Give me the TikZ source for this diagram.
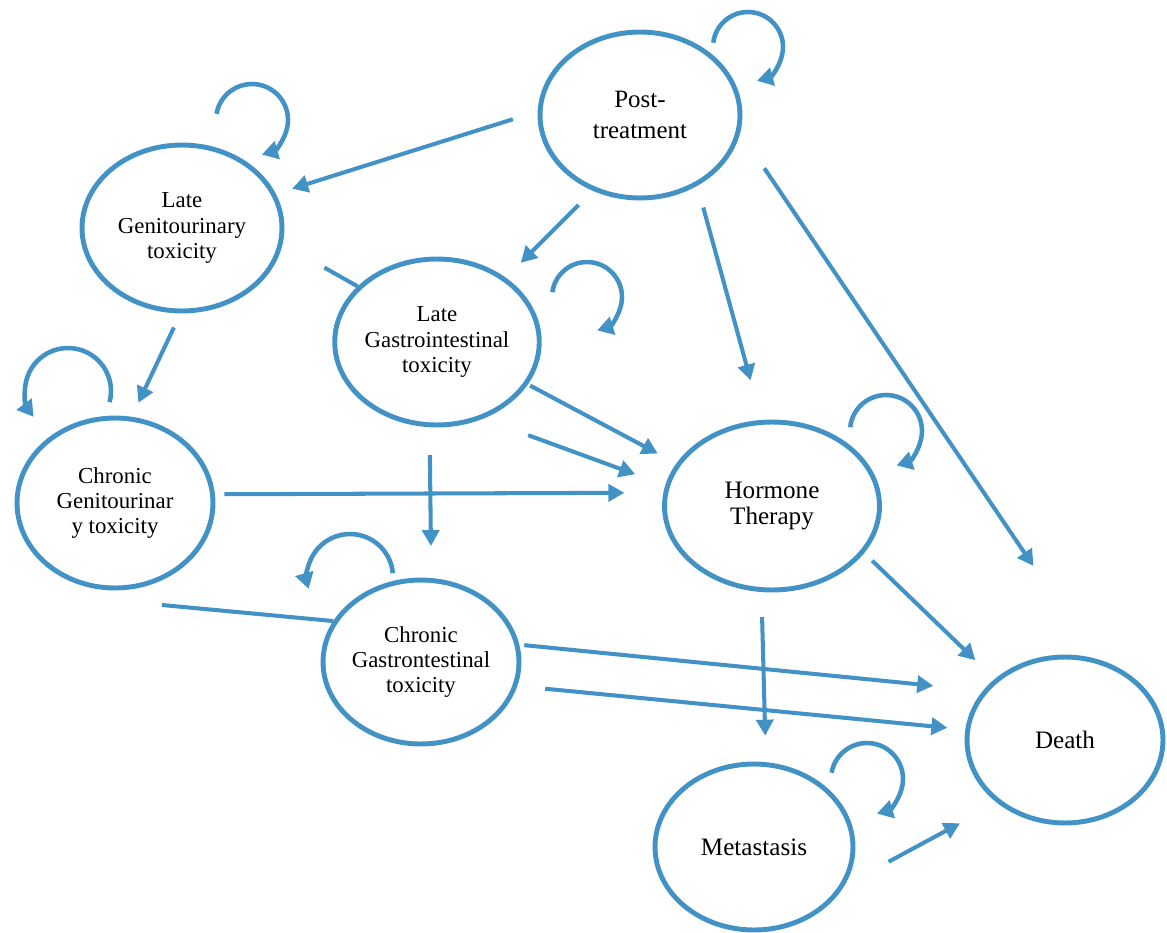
\documentclass[tikz,border=0pt]{standalone}
\usepackage{fontspec}
\setmainfont{Liberation Serif}
\usetikzlibrary{shapes.geometric,arrows.meta,calc}
\definecolor{sblue}{RGB}{67,146,198}
\begin{document}
\begin{tikzpicture}[x=0.02cm,y=-0.02cm,
  state/.style={ellipse, draw=sblue, line width=2.8pt, fill=white, inner sep=0pt,
    align=center, text=black, font=\fontsize{13}{14.4}\selectfont},
  big/.style={font=\fontsize{14.3}{14.6}\selectfont},
  arr/.style={draw=sblue, line width=2.3pt, -{Triangle[length=0.32cm,width=0.34cm]}},
  plain/.style={draw=sblue, line width=2.3pt},
  selfloop/.style={draw=sblue, line width=2.6pt, -{Triangle[length=0.32cm,width=0.36cm]}}]
\useasboundingbox (0,0) rectangle (1167,933);

% states
\node[state, font=\fontsize{14.2}{18}\selectfont, minimum width=4cm, minimum height=3.32cm] (post) at (640,115) {Post-\\treatment};
\node[state, minimum width=4cm, minimum height=3.32cm] (lgu) at (182,228) {Late\\Genitourinary\\toxicity};
\node[state, minimum width=4cm, minimum height=3.32cm] (lgi) at (437,342) {Late\\Gastrointestinal\\toxicity};
\node[state, minimum width=3.92cm, minimum height=3.4cm] (cgu) at (115,503) {Chronic\\Genitourinar\\y toxicity};
\node[state, big, minimum width=4.3cm, minimum height=3.36cm] (ht) at (772,506) {Hormone\\Therapy};
\node[state, minimum width=3.92cm, minimum height=3.28cm] (cgi) at (421,662) {Chronic\\Gastrontestinal\\toxicity};
\node[state, big, minimum width=3.92cm, minimum height=3.32cm] (death) at (1065,740) {Death};
\node[state, big, minimum width=3.96cm, minimum height=3.32cm] (meta) at (754,847) {Metastasis};

\coordinate (cguout) at ($(cgu.center)+(47,102)$);

% transitions
\draw[arr, shorten <=0.52cm, shorten >=0.34cm] (post.178.4) -- (lgu.20);
\draw[arr, shorten <=0.40cm, shorten >=0.42cm] (post.238.2) -- (lgi.43.2);
\draw[arr, shorten <=0.45cm, shorten >=0.82cm] (post.309.9) -- (ht.97.6);
\draw[arr, shorten <=0.86cm, shorten >=2.24cm] (post.350.6) -- (death.69.5);
\draw[arr, shorten <=0.31cm, shorten >=0.31cm] (lgu.269.7) -- (cgu.79.7);
\draw[plain, shorten <=0.96cm] (lgu.351.1) -- (lgi.145.2);
\draw[arr, shorten <=0.05cm, shorten >=0.42cm] (lgi.335.6) -- (ht.156.8);
\draw[arr, shorten <=0.96cm, shorten >=0.64cm] (lgi.301.4) -- (ht.169.5);
\draw[arr, shorten <=0.19cm, shorten >=0.78cm] (cgu.5.9) -- (ht.173.1);
\draw[arr, shorten <=0.56cm, shorten >=0.64cm] (lgi.265.9) -- (cgi.83);
\draw[plain] (cguout) -- (cgi.155.3);
\draw[arr, shorten <=0.10cm, shorten >=1.00cm] (cgi.10.4) -- (death.149.1);
\draw[arr, shorten <=0.56cm, shorten >=0.36cm] (cgi.346.1) -- (death.174);
\draw[arr, shorten <=0.22cm, shorten >=0.54cm] (ht.333.1) -- (death.139.3);
\draw[arr, shorten <=0.50cm, shorten >=0.53cm] (ht.263.9) -- (meta.82.6);
\draw[arr, shorten <=1.00cm, shorten >=0.85cm] (meta.337.1) -- (death.223.5);

% self loops
\draw[selfloop] ($(post.center)+(108,-68)+(173:0.7cm)$) arc[start angle=173, end angle=-75, radius=0.7cm];
\draw[selfloop] ($(lgu.center)+(70,-108)+(170:0.72cm)$) arc[start angle=170, end angle=-74, radius=0.72cm];
\draw[selfloop] ($(lgi.center)+(150,-45)+(172:0.7cm)$) arc[start angle=172, end angle=-73, radius=0.7cm];
\draw[selfloop] ($(cgu.center)+(-47,-112)+(-15:0.86cm)$) arc[start angle=-15, end angle=217, radius=0.86cm];
\draw[selfloop] ($(ht.center)+(114,-75)+(174:0.72cm)$) arc[start angle=174, end angle=-73, radius=0.72cm];
\draw[selfloop] ($(cgi.center)+(-71,-85)+(5:0.86cm)$) arc[start angle=5, end angle=196, radius=0.86cm];
\draw[selfloop] ($(meta.center)+(113,-68)+(170:0.72cm)$) arc[start angle=170, end angle=-74, radius=0.72cm];
\end{tikzpicture}
\end{document}
